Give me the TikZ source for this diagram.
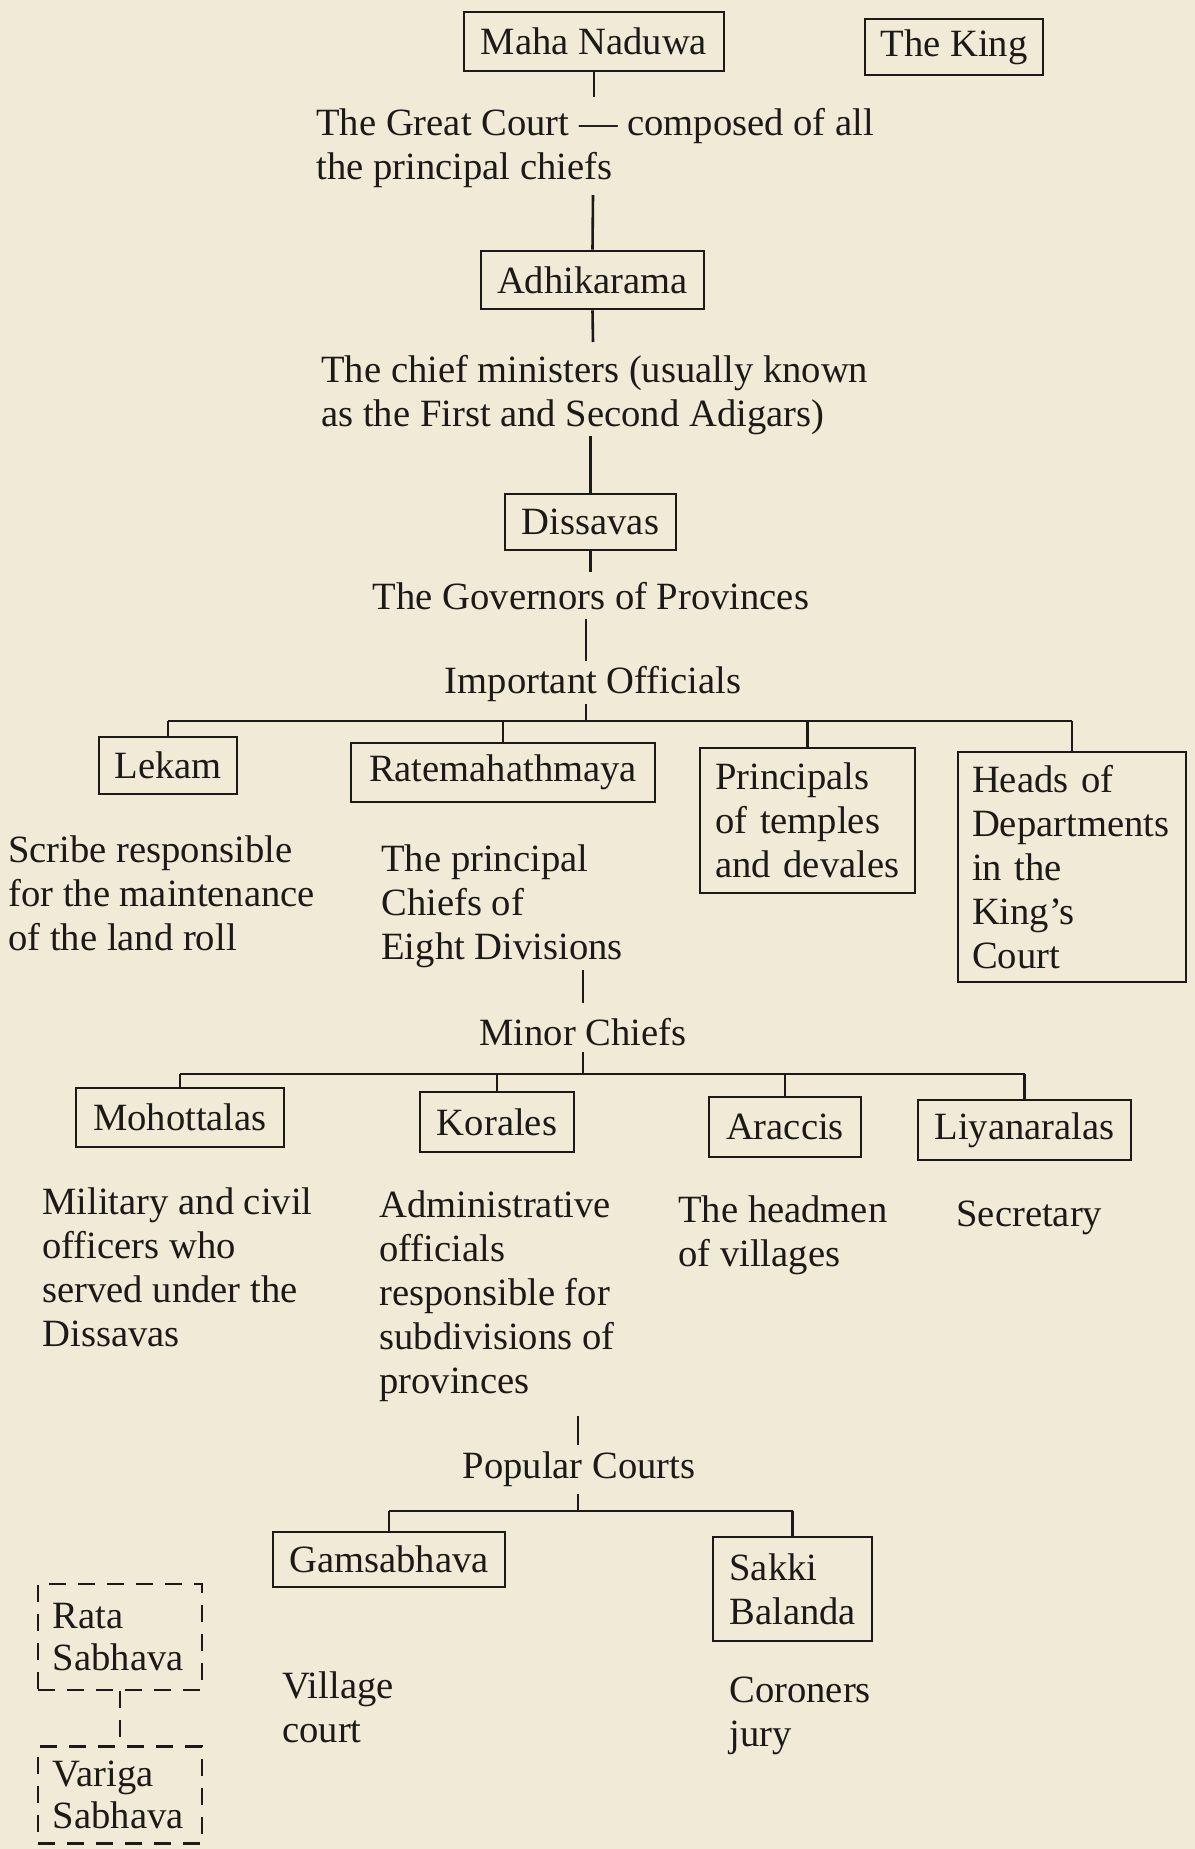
\documentclass[tikz,border=0pt]{standalone}
\usepackage{fontspec}
\setmainfont{Liberation Serif}
\definecolor{paper}{RGB}{240,234,214}
\definecolor{ink}{RGB}{28,26,24}
\begin{document}
\begin{tikzpicture}[x=0.5pt,y=-0.5pt,
  every node/.style={font=\fontsize{19.3}{22}\selectfont, text=ink, inner sep=0pt},
  obox/.style={draw=ink, line width=1.3pt},
  dbox/.style={draw=ink, line width=1.2pt, dash pattern=on 8.5pt off 6pt},
  txt/.style={align=left, anchor=north west},
  conn/.style={draw=ink, line width=1.3pt},
  dconn/.style={draw=ink, line width=1.2pt, dash pattern=on 8.5pt off 6pt}]
\fill[paper] (0,0) rectangle (1195,1849);
\useasboundingbox (0,0) rectangle (1195,1849);

% top
\node[obox, minimum width=130pt, minimum height=29.5pt] (mn) at (594,41.5) {Maha Naduwa};
\node[obox, minimum width=89pt, minimum height=28pt] (king) at (954,47) {The King};
\node[txt] (gc) at (316,107.5) {The Great Court — composed of all\\the principal chiefs};
\node[obox, minimum width=111.5pt, minimum height=29pt] (adh) at (592.5,280) {Adhikarama};
\node[txt] (cm) at (321,354.5) {The chief ministers (usually known\\as the First and Second Adigars)};
\node[obox, minimum width=85.5pt, minimum height=28pt] (dis) at (590.5,522) {Dissavas};
\node (gov) at (591,596) {The Governors of Provinces};
\node (io) at (593,684) {Important Officials};

\coordinate (c1) at (594,97);
\coordinate (c2) at (593,195);
\coordinate (c3) at (593,342);
\coordinate (c4) at (590.5,436);
\coordinate (c5) at (590.5,572);
\coordinate (c6) at (586,619);
\coordinate (c7) at (586,661);
\coordinate (c8) at (586,704);
\coordinate (j1) at (586,721);
\draw[conn] (mn.south) -- (c1);
\draw[conn] (c2) -- (adh.north);
\draw[conn] (adh.south) -- (c3);
\draw[conn] (c4) -- (dis.north);
\draw[conn] (dis.south) -- (c5);
\draw[conn] (c6) -- (c7);
\draw[conn] (c8) -- (j1);

% important officials
\node[obox, minimum width=69pt, minimum height=28.5pt] (lek) at (168,765.5) {Lekam};
\node[obox, minimum width=152pt, minimum height=29.5pt] (rat) at (503,772.5) {Ratemahathmaya};
\node[obox, minimum width=107.5pt, minimum height=72.5pt, text width=92.5pt, align=left] (pri) at (807.5,820.5) {Principals\\of temples\\and devales};
\node[obox, minimum width=114pt, minimum height=115pt, text width=100pt, align=left] (hea) at (1072,867) {Heads of\\Departments\\in the\\King’s\\Court};
\draw[conn] (lek.north |- j1) -- (hea.north |- j1);
\draw[conn] (lek.north |- j1) -- (lek.north);
\draw[conn] (rat.north |- j1) -- (rat.north);
\draw[conn] (pri.north |- j1) -- (pri.north);
\draw[conn] (hea.north |- j1) -- (hea.north);
\node[txt] (lekd) at (8,835.5) {Scribe responsible\\for the maintenance\\of the land roll};
\node[txt] (ratd) at (381,844.5) {The principal\\Chiefs of\\Eight Divisions};

% minor chiefs
\coordinate (c9) at (583,970);
\coordinate (c10) at (583,1003);
\node (mc) at (583,1032) {Minor Chiefs};
\coordinate (c11) at (583,1052);
\coordinate (j2) at (583,1074);
\draw[conn] (c9) -- (c10);
\draw[conn] (c11) -- (j2);
\node[obox, minimum width=104pt, minimum height=29.5pt] (moh) at (180,1117.5) {Mohottalas};
\node[obox, minimum width=77pt, minimum height=30pt] (kor) at (497,1122) {Korales};
\node[obox, minimum width=76pt, minimum height=30pt] (ara) at (785,1127) {Araccis};
\node[obox, minimum width=106.5pt, minimum height=30pt] (liy) at (1024.5,1130) {Liyanaralas};
\draw[conn] (moh.north |- j2) -- (liy.north |- j2);
\draw[conn] (moh.north |- j2) -- (moh.north);
\draw[conn] (kor.north |- j2) -- (kor.north);
\draw[conn] (ara.north |- j2) -- (ara.north);
\draw[conn] (liy.north |- j2) -- (liy.north);
\node[txt] (mohd) at (42,1187.5) {Military and civil\\officers who\\served under the\\Dissavas};
\node[txt] (kord) at (379,1190.5) {Administrative\\officials\\responsible for\\subdivisions of\\provinces};
\node[txt] (arad) at (678,1195.5) {The headmen\\of villages};
\node[anchor=west] (liyd) at (956,1217.5) {Secretary};

% popular courts
\coordinate (c12) at (578,1416);
\coordinate (c13) at (578,1445);
\node (pc) at (579,1469.5) {Popular Courts};
\coordinate (c14) at (578,1494);
\coordinate (j3) at (578,1511);
\draw[conn] (c12) -- (c13);
\draw[conn] (c14) -- (j3);
\node[obox, minimum width=116pt, minimum height=27.5pt] (gam) at (389,1559.5) {Gamsabhava};
\node[obox, minimum width=79.5pt, minimum height=52pt, text width=63pt, align=left] (sak) at (792.5,1589) {Sakki\\Balanda};
\draw[conn] (gam.north |- j3) -- (sak.north |- j3);
\draw[conn] (gam.north |- j3) -- (gam.north);
\draw[conn] (sak.north |- j3) -- (sak.north);
\node[txt] (vc) at (282,1671.5) {Village\\court};
\node[txt] (cj) at (729,1676.5) {Coroners\\jury};

% dashed courts
\node[dbox, minimum width=82pt, minimum height=53pt, text width=67pt, align=left, font=\fontsize{19.3}{21}\selectfont] (rata) at (120,1637) {Rata\\Sabhava};
\node[dbox, minimum width=82pt, minimum height=48.5pt, text width=67pt, align=left, font=\fontsize{19.3}{21}\selectfont] (var) at (120,1795) {Variga\\Sabhava};
\draw[dconn] (rata.south) -- (var.north);
\end{tikzpicture}
\end{document}
